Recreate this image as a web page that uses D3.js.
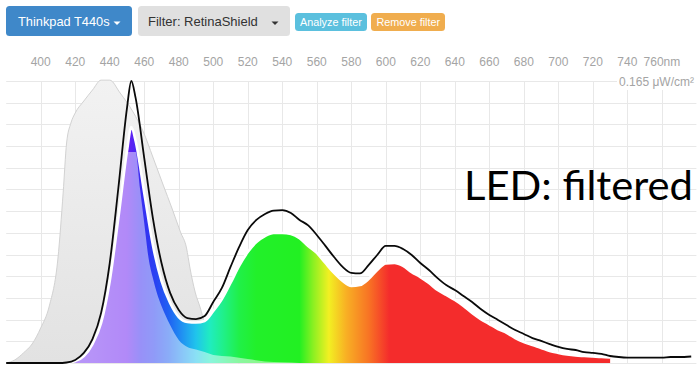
<!DOCTYPE html>
<html>
<head>
<meta charset="utf-8">
<script src="https://cdn.jsdelivr.net/npm/d3@7"></script>
<style>
  html, body { margin: 0; padding: 0; background: #ffffff; }
  svg { display: block; }
</style>
</head>
<body>
<svg id="chart" width="700" height="369"></svg>
<script>
// ---------------- DATA ----------------
const tickWavelengths = [400, 420, 440, 460, 480, 500, 520, 540, 560, 580, 600, 620, 640, 660, 680, 700, 720, 740, 760];
const tickLabels = ["400", "420", "440", "460", "480", "500", "520", "540", "560", "580", "600", "620", "640", "660", "680", "700", "720", "740", "760nm"];
const yMaxLabel = "0.165 μW/cm²";
const yMax = 0.165;

// Unfiltered LED spectrum (black outline), μW/cm²
const unfilteredWl = [380, 385, 390, 395, 400, 405, 410, 415, 420, 425, 430, 435, 440, 445, 450, 452.5, 455, 460, 465, 470, 475, 480, 485, 490, 495, 500, 505, 510, 515, 520, 525, 530, 535, 540, 545, 550, 555, 560, 565, 570, 575, 580, 585, 590, 595, 600, 605, 610, 615, 620, 625, 630, 635, 640, 645, 650, 655, 660, 665, 670, 675, 680, 685, 690, 695, 700, 705, 710, 715, 720, 725, 730, 735, 740, 745, 750, 755, 760, 765, 770, 777];
const unfilteredVal = [0, 0, 0, 0, 0, 0, 0, 0.0003, 0.0018, 0.0059, 0.0140, 0.0293, 0.0585, 0.1024, 0.1492, 0.1650, 0.1551, 0.1199, 0.0848, 0.0585, 0.0410, 0.0310, 0.0263, 0.0257, 0.0275, 0.0357, 0.0439, 0.0562, 0.0679, 0.0778, 0.0837, 0.0872, 0.0892, 0.0895, 0.0878, 0.0837, 0.0805, 0.0749, 0.0685, 0.0620, 0.0562, 0.0527, 0.0524, 0.0573, 0.0632, 0.0685, 0.0685, 0.0667, 0.0632, 0.0585, 0.0544, 0.0497, 0.0456, 0.0427, 0.0392, 0.0357, 0.0316, 0.0281, 0.0252, 0.0222, 0.0193, 0.0170, 0.0146, 0.0129, 0.0111, 0.0094, 0.0082, 0.0076, 0.0064, 0.0059, 0.0053, 0.0041, 0.0035, 0.0032, 0.0032, 0.0032, 0.0032, 0.0032, 0.0035, 0.0035, 0.0038];

// Filtered LED spectrum (coloured area), μW/cm²
const filteredWl = [415, 420, 425, 430, 435, 440, 445, 450, 452.5, 455, 460, 465, 470, 475, 480, 485, 490, 495, 500, 505, 510, 515, 520, 525, 530, 535, 540, 545, 550, 555, 560, 565, 570, 575, 580, 585, 590, 595, 600, 605, 610, 615, 620, 625, 630, 635, 640, 645, 650, 655, 660, 665, 670, 675, 680, 685, 690, 695, 700, 705, 710, 715, 720, 725, 730];
const filteredVal = [0, 0.0012, 0.0041, 0.0111, 0.0234, 0.0480, 0.0848, 0.1240, 0.1381, 0.1299, 0.0995, 0.0690, 0.0480, 0.0351, 0.0269, 0.0240, 0.0237, 0.0246, 0.0304, 0.0374, 0.0468, 0.0568, 0.0649, 0.0708, 0.0743, 0.0761, 0.0761, 0.0755, 0.0731, 0.0685, 0.0644, 0.0585, 0.0527, 0.0480, 0.0451, 0.0456, 0.0491, 0.0544, 0.0582, 0.0585, 0.0568, 0.0532, 0.0503, 0.0468, 0.0427, 0.0398, 0.0369, 0.0334, 0.0293, 0.0257, 0.0228, 0.0199, 0.0176, 0.0146, 0.0123, 0.0105, 0.0088, 0.0070, 0.0059, 0.0050, 0.0044, 0.0041, 0.0038, 0.0035, 0.0033];

// Pale (washed-out) inner layer of the filtered spectrum, μW/cm²
const paleWl = [415, 420, 425, 430, 435, 440, 445, 450, 455, 457.5, 460, 462.5, 465, 467.5, 470, 472.5, 475, 480, 485, 490, 495, 500, 510, 520, 530, 540, 550];
const paleVal = [0, 0.0012, 0.0041, 0.0111, 0.0234, 0.0480, 0.0848, 0.1235, 0.1235, 0.1024, 0.0819, 0.0614, 0.0497, 0.0404, 0.0334, 0.0275, 0.0222, 0.0135, 0.0094, 0.0079, 0.0064, 0.0047, 0.0038, 0.0023, 0.0009, 0.0004, 0];

// Filter curve (grey area), same scale
const filterWl = [380, 385, 390, 395, 400, 405, 410, 413, 415, 417.5, 420, 425, 430, 435, 440, 446, 453.5, 459.5, 465, 471, 476, 481, 484.5, 486.5, 489.5, 492.5, 495, 500, 505, 510, 515];
const filterVal = [0, 0.0018, 0.0059, 0.0111, 0.0205, 0.0334, 0.0614, 0.0995, 0.1287, 0.1404, 0.1463, 0.1533, 0.1597, 0.1655, 0.1655, 0.1580, 0.1469, 0.1352, 0.1205, 0.1041, 0.0907, 0.0766, 0.0673, 0.0556, 0.0415, 0.0322, 0.0234, 0.0146, 0.0070, 0.0029, 0];

// Spectral colour ramp
const spectrumWl = [400, 430, 450, 458, 466, 474, 482, 490, 498, 506, 515, 525, 550, 558, 567, 577, 590, 602, 780];
const spectrumColor = ["#7c3cec", "#7430f2", "#6a1ef2", "#3a2cf2", "#2a40f2", "#2060f2", "#2092f2", "#20c4ec", "#20ecc0", "#20f088", "#20f048", "#22f02a", "#22f022", "#8cf022", "#f2f022", "#f8b024", "#f87424", "#f42c2c", "#f42c2c"];

// Buttons
const buttonLabels = ["Thinkpad T440s", "Filter: RetinaShield", "Analyze filter", "Remove filter"];
const overlayTitle = "LED: filtered";

// ---------------- DRAW ----------------
const svg = d3.select("#chart");
const x = d3.scaleLinear().domain([380, 780]).range([6.2, 696.4]);
const y = d3.scaleLinear().domain([0, yMax]).range([363, 81]);

const defs = svg.append("defs");
const grad = defs.append("linearGradient").attr("id", "spec")
  .attr("gradientUnits", "userSpaceOnUse")
  .attr("x1", x(380)).attr("x2", x(780)).attr("y1", 0).attr("y2", 0);
spectrumWl.forEach((w, i) => {
  grad.append("stop").attr("offset", (w - 380) / 400).attr("stop-color", spectrumColor[i]);
});
const ggrad = defs.append("linearGradient").attr("id", "grey")
  .attr("x1", 0).attr("x2", 0).attr("y1", 0).attr("y2", 1);
ggrad.append("stop").attr("offset", 0).attr("stop-color", "#f2f2f2");
ggrad.append("stop").attr("offset", 1).attr("stop-color", "#e2e2e2");

// Grid
const grid = svg.append("g");
const hTicks = d3.range(0, 14).map(k => k * yMax / 13);
grid.selectAll("line.h").data(hTicks).enter().append("line")
  .attr("x1", x(380)).attr("x2", x(780))
  .attr("y1", d => Math.round(y(d)) + 0.5).attr("y2", d => Math.round(y(d)) + 0.5)
  .attr("stroke", "#e8e8e8").attr("stroke-width", 1);
grid.selectAll("line.v").data(tickWavelengths).enter().append("line")
  .attr("x1", d => Math.round(x(d)) + 0.5).attr("x2", d => Math.round(x(d)) + 0.5)
  .attr("y1", y(yMax)).attr("y2", y(0))
  .attr("stroke", "#e8e8e8").attr("stroke-width", 1);

// X tick labels (top)
svg.append("g").selectAll("text").data(tickWavelengths).enter().append("text")
  .attr("x", d => x(d)).attr("y", 66)
  .attr("text-anchor", "middle")
  .attr("font-family", "Liberation Sans, Arial, sans-serif")
  .attr("font-size", 12).attr("fill", "#a4a4a4")
  .text((d, i) => tickLabels[i]);

// Y max label
svg.append("rect").attr("x", 617).attr("y", 73).attr("width", 83).attr("height", 17).attr("fill", "#ffffff");
svg.append("text").attr("x", 694).attr("y", 85.5).attr("text-anchor", "end")
  .attr("font-family", "Liberation Sans, Arial, sans-serif")
  .attr("font-size", 12).attr("fill", "#a4a4a4").text(yMaxLabel);

const mk = (wl, val) => wl.map((w, i) => ({ w, v: val[i] }));
const areaGen = d3.area().x(d => x(d.w)).y0(y(0)).y1(d => y(d.v)).curve(d3.curveMonotoneX);
const lineGen = d3.line().x(d => x(d.w)).y(d => y(d.v)).curve(d3.curveMonotoneX);

// Filter grey area
svg.append("path").datum(mk(filterWl, filterVal))
  .attr("d", areaGen).attr("fill", "url(#grey)").attr("stroke", "none");
svg.append("path").datum(mk(filterWl, filterVal))
  .attr("d", lineGen).attr("fill", "none").attr("stroke", "#d2d2d2").attr("stroke-width", 1);

// Filtered coloured area
const filt = mk(filteredWl, filteredVal);
svg.append("path").datum(filt).attr("d", areaGen).attr("fill", "url(#spec)");
// pale inner layer
svg.append("path").datum(mk(paleWl, paleVal)).attr("d", areaGen)
  .attr("fill", "#ffffff").attr("fill-opacity", 0.48);
// white edge
svg.append("path").datum(filt).attr("d", lineGen)
  .attr("fill", "none").attr("stroke", "#ffffff").attr("stroke-width", 2.6);

// Unfiltered black line
svg.append("path").datum(mk(unfilteredWl, unfilteredVal)).attr("d", lineGen)
  .attr("fill", "none").attr("stroke", "#0a0a0a").attr("stroke-width", 1.8)
  .attr("stroke-linejoin", "round");

// Overlay title
const title = svg.append("text").attr("x", 464).attr("y", 200)
  .attr("font-family", "Lato, 'Open Sans', sans-serif")
  .attr("font-size", 41).attr("fill", "#000").text(overlayTitle);
title.attr("textLength", 229).attr("lengthAdjust", "spacingAndGlyphs");

// Buttons
const buttons = [
  { x: 6, y: 6, w: 126, h: 30, fill: "#3f88c9", color: "#ffffff", size: 12.8, tx: 18, caret: 117 },
  { x: 138, y: 6, w: 152, h: 30, fill: "#e0e0e0", color: "#333333", size: 13, tx: 148, caret: 275 },
  { x: 295, y: 13, w: 72, h: 18, fill: "#5bc0de", color: "#ffffff", size: 10.8, tx: 300, caret: null },
  { x: 371, y: 13, w: 74, h: 18, fill: "#f0ad4e", color: "#ffffff", size: 10.8, tx: 376.5, caret: null }
];
const bg = svg.append("g").selectAll("g").data(buttons).enter().append("g");
bg.append("rect").attr("x", d => d.x).attr("y", d => d.y).attr("width", d => d.w).attr("height", d => d.h)
  .attr("rx", 3.5).attr("fill", d => d.fill);
bg.append("text").attr("x", d => d.tx).attr("y", d => d.y + d.h / 2 + d.size * 0.36)
  .attr("font-family", "Liberation Sans, Arial, sans-serif")
  .attr("font-size", d => d.size).attr("fill", d => d.color)
  .text((d, i) => buttonLabels[i]);
bg.filter(d => d.caret !== null).append("path")
  .attr("d", d => `M${d.caret - 3.5},${d.y + 15.5} L${d.caret + 3.5},${d.y + 15.5} L${d.caret},${d.y + 19} Z`)
  .attr("fill", d => d.color);
</script>
</body>
</html>
